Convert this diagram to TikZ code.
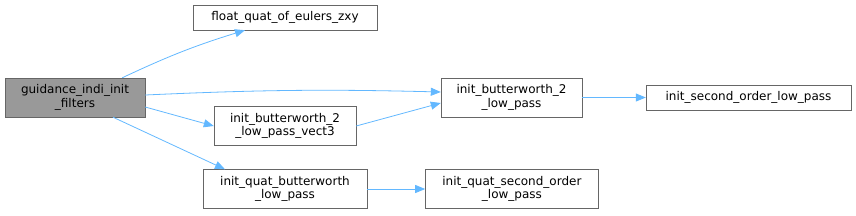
\documentclass[tikz,border=0pt]{standalone}
\usepackage{fontspec}
\setmainfont{DejaVu Sans}
\usetikzlibrary{positioning, arrows.meta}

\definecolor{edgeblue}{HTML}{63B8FF}
\definecolor{boxgray}{HTML}{666666}

\begin{document}
\begin{tikzpicture}[
		x=1pt, y=-1pt,
		fnbox/.style={draw=boxgray, rectangle, align=center, inner sep=2pt, font=\fontsize{12}{13.5}\selectfont},
		callarrow/.style={-{Triangle[length=10pt, width=8pt, fill=edgeblue]}, draw=edgeblue, line width=0.8pt}
	]

	\useasboundingbox (0,0) rectangle (856,215);

	% Nodes
	\node[fnbox, fill=black!40, minimum width=140pt, minimum height=39pt] (main) at (75,97.5) {guidance\_indi\_init\\\_filters};
	\node[fnbox, minimum width=184pt, minimum height=25pt] (eulers) at (285,17.5) {float\_quat\_of\_eulers\_zxy};
	\node[fnbox, minimum width=141pt, minimum height=39pt] (bw2) at (511.5,97.5) {init\_butterworth\_2\\\_low\_pass};
	\node[fnbox, minimum width=205pt, minimum height=25pt] (sol) at (748.5,97.5) {init\_second\_order\_low\_pass};
	\node[fnbox, minimum width=142pt, minimum height=39pt] (vect3) at (285,126) {init\_butterworth\_2\\\_low\_pass\_vect3};
	\node[fnbox, minimum width=164pt, minimum height=39pt] (qbw) at (285,189) {init\_quat\_butterworth\\\_low\_pass};
	\node[fnbox, minimum width=173pt, minimum height=39pt] (qsol) at ([xshift=58pt]qbw.east) [anchor=west] {init\_quat\_second\_order\\\_low\_pass};

	% Connections
	\draw[callarrow] ([xshift=-23pt]main.north east) to[bend left=4] ([xshift=-40pt]eulers.south);
	\draw[callarrow] ([yshift=2.5pt]main.east) to[bend left=2] ([yshift=5.5pt]bw2.west);
	\draw[callarrow] ([yshift=-9.5pt]main.east) -- (vect3.west);
	\draw[callarrow] ([xshift=38pt]main.south) -- ([xshift=-60pt]qbw.north);
	\draw[callarrow] (vect3.east) -- ([yshift=-5.5pt]bw2.west);

	\draw[callarrow] (bw2) -- (sol);
	\draw[callarrow] (qbw) -- (qsol);

\end{tikzpicture}
\end{document}
